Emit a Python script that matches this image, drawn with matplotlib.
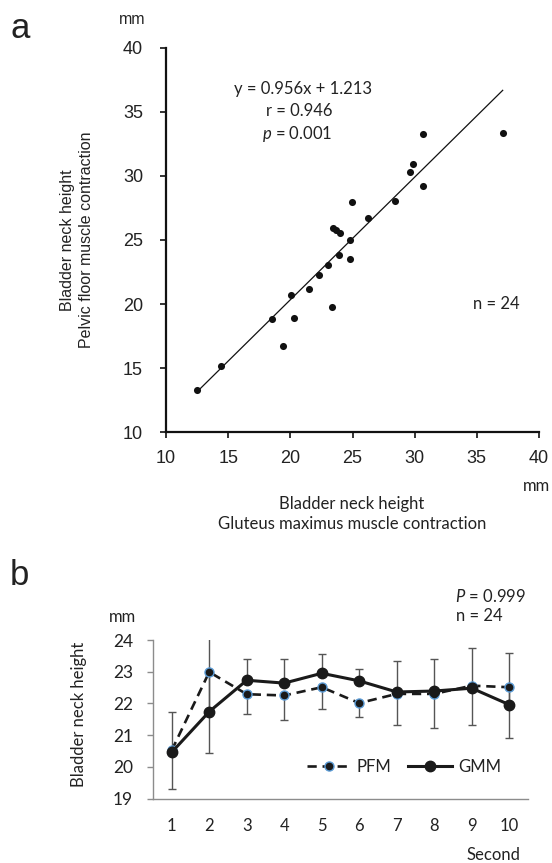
import matplotlib
matplotlib.use("Agg")
import numpy as np
import matplotlib.pyplot as plt

# panel a : bladder neck height, GMM contraction (x) vs PFM contraction (y)
gmm_x = [12.52, 14.40, 18.53, 19.41, 20.03, 20.32, 21.53, 22.33, 23.03, 23.32,
         23.40, 23.65, 24.02, 23.91, 24.83, 24.83, 24.93, 26.25, 28.45, 29.65,
         29.84, 30.67, 30.67, 37.08]
pfm_y = [13.27, 15.16, 18.85, 16.74, 20.74, 18.95, 21.15, 22.24, 23.02, 19.73,
         25.93, 25.75, 25.54, 23.85, 25.02, 23.54, 27.92, 26.73, 28.03, 30.31,
         30.93, 33.22, 29.22, 33.32]
slope, intercept = 0.956, 1.213

# panel b : time course
seconds = [1, 2, 3, 4, 5, 6, 7, 8, 9, 10]
pfm_mean = [20.52, 22.99, 22.29, 22.25, 22.51, 22.01, 22.30, 22.30, 22.56, 22.51]
gmm_mean = [20.46, 21.74, 22.73, 22.64, 22.95, 22.71, 22.36, 22.39, 22.48, 21.96]
pfm_sd = [1.22, 2.55, 0.61, 0.78, 0.69, 0.44, 0.99, 1.09, 1.23, 1.61]   # drawn downward
gmm_sd = [1.27, 2.50, 0.67, 0.75, 0.61, 0.39, 0.98, 1.02, 1.26, 1.64]   # drawn upward

ARIAL = "Liberation Sans"
CALI = "Lato"
plt.rcParams["mathtext.fontset"] = "custom"
plt.rcParams["mathtext.it"] = "Lato:italic"
plt.rcParams["mathtext.rm"] = "Lato"

W, H = 552, 863
fig = plt.figure(figsize=(W / 100, H / 100), dpi=100)


def px_axes(l, t, r, b):
    return fig.add_axes([l / W, 1 - b / H, (r - l) / W, (b - t) / H])


def ftext(x, y, s, **kw):
    return fig.text(x / W, 1 - y / H, s, **kw)


# ---------- a ----------
ax = px_axes(166, 47.5, 539, 432.3)
ax.scatter(gmm_x, pfm_y, s=26, color="#111111", zorder=3, linewidths=0)
xs = np.array([min(gmm_x), max(gmm_x)])
ax.plot(xs, slope * xs + intercept, color="#111111", lw=0.9)
ax.set_xlim(10, 40)
ax.set_ylim(10, 40)
ax.set_xticks(range(10, 41, 5))
ax.set_yticks(range(10, 41, 5))
for s in ["top", "right"]:
    ax.spines[s].set_visible(False)
for s in ["left", "bottom"]:
    ax.spines[s].set_linewidth(1.6)
    ax.spines[s].set_color("#111111")
ax.tick_params(axis="both", direction="out", length=4.5, width=1.2,
               color="#111111", labelsize=13, labelcolor="#222222")
ax.tick_params(axis="y", pad=12)
ax.tick_params(axis="x", pad=8)
for lb in ax.get_xticklabels() + ax.get_yticklabels():
    lb.set_fontfamily(ARIAL)

ftext(303, 89, "y = 0.956x + 1.213", ha="center", va="center",
      family=CALI, fontsize=12, color="#222222")
ftext(299, 111.5, "r = 0.946", ha="center", va="center",
      family=CALI, fontsize=12, color="#222222")
ftext(297, 134, "$p$ = 0.001", ha="center", va="center",
      family=CALI, fontsize=12, color="#222222")
ftext(496, 304, "n = 24", ha="center", va="center",
      family=CALI, fontsize=12, color="#222222")

ftext(77, 240, "Bladder neck height\nPelvic floor muscle contraction",
      rotation=90, ha="center", va="center", family=ARIAL, fontsize=11.5,
      linespacing=1.35, color="#222222")
ftext(352, 514, "Bladder neck height\nGluteus maximus muscle contraction",
      ha="center", va="center", family=CALI, fontsize=12,
      linespacing=1.3, color="#222222")
ftext(537, 486, "mm", ha="center", va="center", family=CALI, fontsize=12,
      color="#222222")
ftext(132, 19, "mm", ha="center", va="center", family=ARIAL, fontsize=11.5,
      color="#222222")
ftext(10, 38, "a", ha="left", va="baseline", family=ARIAL, fontsize=25,
      color="#222222")

# ---------- b ----------
bx = px_axes(153, 640, 528, 798.5)
bx.errorbar(seconds, gmm_mean, yerr=[np.zeros(10), gmm_sd], fmt="none",
            ecolor="#555555", elinewidth=1, capsize=2.6, capthick=1, zorder=1)
bx.errorbar(seconds, pfm_mean, yerr=[pfm_sd, np.zeros(10)], fmt="none",
            ecolor="#555555", elinewidth=1, capsize=2.6, capthick=1, zorder=1)
bx.plot(seconds, pfm_mean, ls=(0, (3.5, 2.2)), color="#1a1a1a", lw=1.9,
        marker="o", ms=6.5, mfc="#1a1a1a", mec="#5b9bd5", mew=1.0,
        label="PFM", zorder=3)
bx.plot(seconds, gmm_mean, ls="-", color="#1a1a1a", lw=2.2,
        marker="o", ms=7.5, mfc="#1a1a1a", mec="#1a1a1a",
        label="GMM", zorder=4)
bx.set_xlim(0.5, 10.5)
bx.set_ylim(19, 24)
bx.set_xticks(seconds)
bx.set_yticks(range(19, 25))
for s in ["top", "right"]:
    bx.spines[s].set_visible(False)
for s in ["left", "bottom"]:
    bx.spines[s].set_color("#8c8c8c")
    bx.spines[s].set_linewidth(1.0)
bx.tick_params(axis="y", direction="out", length=4.5, width=1.0,
               color="#8c8c8c", labelsize=12.5, pad=10, labelcolor="#222222")
bx.tick_params(axis="x", length=0, labelsize=12, pad=14, labelcolor="#222222")
for lb in bx.get_xticklabels() + bx.get_yticklabels():
    lb.set_fontfamily(CALI)

leg = bx.legend(loc="center left", bbox_to_anchor=(307 / W, 1 - 767 / H),
                bbox_transform=fig.transFigure, ncol=2, frameon=False,
                borderpad=0, borderaxespad=0, handlelength=2.6,
                handletextpad=0.4, columnspacing=1.0,
                prop={"family": CALI, "size": 12})
for t in leg.get_texts():
    t.set_color("#222222")

ftext(79, 714, "Bladder neck height", rotation=90, ha="center", va="center",
      family=CALI, fontsize=12, color="#222222")
ftext(122, 617, "mm", ha="center", va="center", family=CALI, fontsize=12,
      color="#222222")
ftext(455, 596, "$P$ = 0.999", ha="left", va="center", family=CALI,
      fontsize=12, color="#222222")
ftext(456, 616, "n = 24", ha="left", va="center", family=CALI,
      fontsize=12, color="#222222")
ftext(520, 855, "Second", ha="right", va="center", family=CALI,
      fontsize=12, color="#222222")
ftext(10, 585, "b", ha="left", va="baseline", family=ARIAL, fontsize=25,
      color="#222222")

fig.savefig("out.png", dpi=100)
